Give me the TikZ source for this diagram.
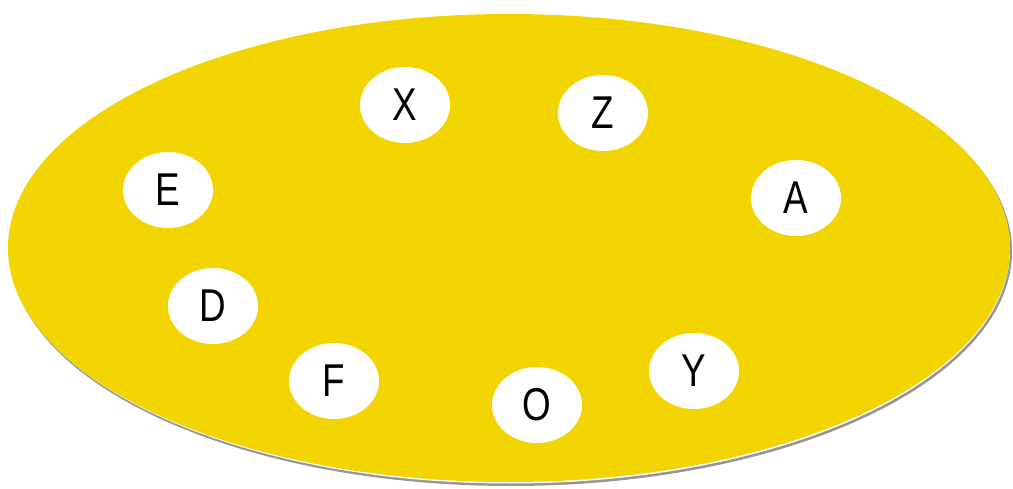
\documentclass[tikz,border=0pt]{standalone}
\usepackage{fontspec}
\setmainfont{Liberation Sans}
\definecolor{bigyellow}{RGB}{242,213,0}
\definecolor{rimgray}{RGB}{150,150,150}
\begin{document}
\begin{tikzpicture}[x=1pt,y=1pt,
  disc/.style={ellipse, fill=white, minimum width=90pt, minimum height=76pt, inner sep=0pt,
    font=\fontsize{46}{46}\selectfont, text=black}]
\usetikzlibrary{shapes.geometric}
\useasboundingbox (0,0) rectangle (1013,488);
\fill[rimgray] (511,237) ellipse [x radius=501, y radius=235];
\fill[white] (510,238.5) ellipse [x radius=500, y radius=234];
\fill[bigyellow] (509,240) ellipse [x radius=501, y radius=234];
\node[disc] (X) at (405,383) {\scalebox{0.8}[1]{X}};
\node[disc] (Z) at (603,375) {\scalebox{0.8}[1]{Z}};
\node[disc] (E) at (168,298) {\scalebox{0.8}[1]{E}};
\node[disc] (A) at (796,290) {\scalebox{0.8}[1]{A}};
\node[disc] (D) at (213,182) {\scalebox{0.8}[1]{D}};
\node[disc] (F) at (334,107) {\scalebox{0.8}[1]{F}};
\node[disc] (O) at (537,83) {\scalebox{0.8}[1]{O}};
\node[disc] (Y) at (694,117) {\scalebox{0.8}[1]{Y}};
\end{tikzpicture}
\end{document}
